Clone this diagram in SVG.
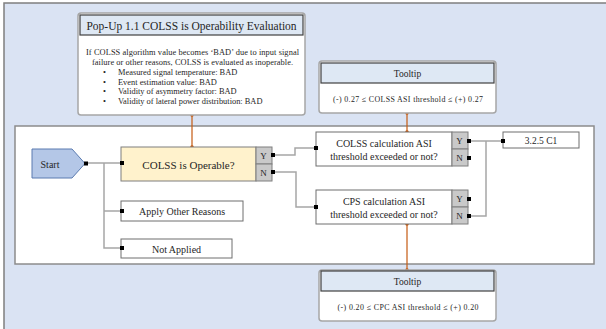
<svg xmlns="http://www.w3.org/2000/svg" width="606" height="329" viewBox="0 0 606 329">
  <defs>
    <style>
      text { font-family: "Liberation Serif", "Times New Roman", serif; fill: #262626; }
      .frame { fill: #dae3f3; stroke: #7f7f7f; stroke-width: 1.5; }
      .panel { fill: #ffffff; stroke: #8c8c8c; stroke-width: 1.5; }
      .card { fill: #ffffff; stroke: #a6a6a6; stroke-width: 1.5; }
      .head { fill: #dee8f4; stroke: #404040; stroke-width: 1.2; }
      .box { fill: #ffffff; stroke: #6e6e6e; stroke-width: 1; }
      .cond { fill: #fff2cc; stroke: #7f7f7f; stroke-width: 1; }
      .yn { fill: #c9c9c9; stroke: #7f7f7f; stroke-width: 1; }
      .start { fill: #b4c7e7; stroke: #5b7bb0; stroke-width: 1; }
      .wire { fill: none; stroke: #a6a6a6; stroke-width: 1.5; }
      .link { fill: none; stroke: #c55a11; stroke-width: 1.2; }
      .port { fill: #000000; }
      .odot { fill: #c55a11; }
      .c { text-anchor: middle; dominant-baseline: central; }
    </style>
  </defs>

  <!-- canvas frame -->
  <rect class="frame" x="4" y="3" width="610" height="340"/>
  <!-- flow panel -->
  <rect class="panel" x="15" y="126" width="579" height="138"/>

  <!-- connectors -->
  <g id="connectors">
    <path class="wire" d="M86,163 H121 M104,163 V248 H121 M104,211 H121"/>
    <path class="wire" d="M273,155 H295 V148 H316"/>
    <path class="wire" d="M273,172 H296 V207 H316"/>
    <path class="wire" d="M469,141 H503"/>
    <path class="wire" d="M469,216 H486 V141"/>
    <path class="link" d="M192,115 V147"/>
    <circle class="odot" cx="192" cy="115" r="1.8"/>
    <circle class="odot" cx="192" cy="147" r="1.8"/>
    <path class="link" d="M407,113 V132"/>
    <circle class="odot" cx="407" cy="113" r="1.8"/>
    <circle class="odot" cx="407" cy="132" r="1.8"/>
    <path class="link" d="M407,224 V270"/>
    <circle class="odot" cx="407" cy="224" r="1.8"/>
    <circle class="odot" cx="407" cy="270" r="1.8"/>
  </g>

  <!-- pop-up card -->
  <g id="popup">
    <rect class="card" x="78" y="13" width="227" height="102" rx="3"/>
    <rect class="head" x="80" y="15" width="223" height="20"/>
    <text class="c" x="191.5" y="25.5" font-size="11.5">Pop-Up 1.1 COLSS is Operability Evaluation</text>
    <g font-size="8.4">
      <text x="86" y="55" textLength="213" lengthAdjust="spacing">If COLSS algorithm  value becomes ‘BAD’ due to input signal</text>
      <text x="92" y="65" textLength="201" lengthAdjust="spacing">failure or other reasons, COLSS is evaluated as inoperable.</text>
      <text x="103" y="75">•</text><text x="118" y="75">Measured signal temperature: BAD</text>
      <text x="103" y="84.5">•</text><text x="118" y="84.5">Event estimation value: BAD</text>
      <text x="103" y="94">•</text><text x="118" y="94">Validity of asymmetry  factor: BAD</text>
      <text x="103" y="104">•</text><text x="118" y="104">Validity of lateral power distribution: BAD</text>
    </g>
  </g>

  <!-- tooltip for COLSS threshold -->
  <g id="tooltip-colss">
    <rect class="card" x="319" y="61" width="177" height="52" rx="3"/>
    <rect class="head" x="321" y="63" width="173" height="20"/>
    <text class="c" x="407.5" y="73.5" font-size="9.5">Tooltip</text>
    <text class="c" x="408" y="99" font-size="7.9" textLength="150" lengthAdjust="spacing">(-) 0.27 ≤ COLSS ASI threshold  ≤ (+) 0.27</text>
  </g>

  <!-- tooltip for CPS threshold -->
  <g id="tooltip-cps">
    <rect class="card" x="319" y="270" width="177" height="51" rx="3"/>
    <rect class="head" x="321" y="271" width="173" height="20"/>
    <text class="c" x="407.5" y="281.5" font-size="9.5">Tooltip</text>
    <text class="c" x="408" y="307.5" font-size="7.9" textLength="141" lengthAdjust="spacing">(-) 0.20 ≤ CPC ASI threshold  ≤ (+) 0.20</text>
  </g>

  <!-- start -->
  <g id="start">
    <path class="start" d="M32,149 H72 L85,163.5 L72,178 H32 Z"/>
    <text class="c" x="50" y="164" font-size="10">Start</text>
    <rect class="port" x="84" y="161.5" width="4" height="4"/>
  </g>

  <!-- COLSS operability check -->
  <g id="colss-operable">
    <rect class="cond" x="121" y="147" width="135" height="34"/>
    <rect class="yn" x="256" y="147" width="16" height="17"/>
    <rect class="yn" x="256" y="164" width="16" height="17"/>
    <text class="c" x="188.5" y="165" font-size="11">COLSS is Operable?</text>
    <text class="c" x="263.5" y="156" font-size="9">Y</text>
    <text class="c" x="263.5" y="173" font-size="9">N</text>
    <rect class="port" x="120" y="161" width="4" height="4"/>
    <rect class="port" x="271" y="153" width="4" height="4"/>
    <rect class="port" x="271" y="170" width="4" height="4"/>
  </g>

  <!-- other reasons -->
  <g id="apply-other">
    <rect class="box" x="121" y="201" width="122" height="20"/>
    <text class="c" x="182" y="211.5" font-size="10">Apply Other Reasons</text>
    <rect class="port" x="120" y="209" width="4" height="4"/>
  </g>

  <!-- not applied -->
  <g id="not-applied">
    <rect class="box" x="121" y="239" width="111" height="19"/>
    <text class="c" x="176.5" y="249" font-size="10">Not Applied</text>
    <rect class="port" x="120" y="246" width="4" height="4"/>
  </g>

  <!-- COLSS ASI threshold check -->
  <g id="colss-asi">
    <rect class="box" x="316" y="132" width="136" height="34"/>
    <rect class="yn" x="452" y="132" width="16" height="17"/>
    <rect class="yn" x="452" y="149" width="16" height="17"/>
    <text class="c" x="384" y="143" font-size="10">COLSS calculation ASI</text>
    <text class="c" x="384" y="156" font-size="10">threshold exceeded or not?</text>
    <text class="c" x="459.5" y="141" font-size="9">Y</text>
    <text class="c" x="459.5" y="158" font-size="9">N</text>
    <rect class="port" x="314" y="146" width="4" height="4"/>
    <rect class="port" x="467" y="139" width="4" height="4"/>
    <rect class="port" x="467" y="156" width="4" height="4"/>
  </g>

  <!-- CPS ASI threshold check -->
  <g id="cps-asi">
    <rect class="box" x="316" y="190" width="136" height="34"/>
    <rect class="yn" x="452" y="190" width="16" height="17"/>
    <rect class="yn" x="452" y="207" width="16" height="17"/>
    <text class="c" x="384" y="201" font-size="10">CPS calculation ASI</text>
    <text class="c" x="384" y="214" font-size="10">threshold exceeded or not?</text>
    <text class="c" x="459.5" y="199" font-size="9">Y</text>
    <text class="c" x="459.5" y="216" font-size="9">N</text>
    <rect class="port" x="314" y="205" width="4" height="4"/>
    <rect class="port" x="467" y="197" width="4" height="4"/>
    <rect class="port" x="467" y="214" width="4" height="4"/>
  </g>

  <!-- result -->
  <g id="result-c1">
    <rect class="box" x="503" y="132" width="76" height="16"/>
    <text class="c" x="541" y="140.5" font-size="9.5">3.2.5 C1</text>
    <rect class="port" x="501" y="139" width="4" height="4"/>
  </g>
</svg>
